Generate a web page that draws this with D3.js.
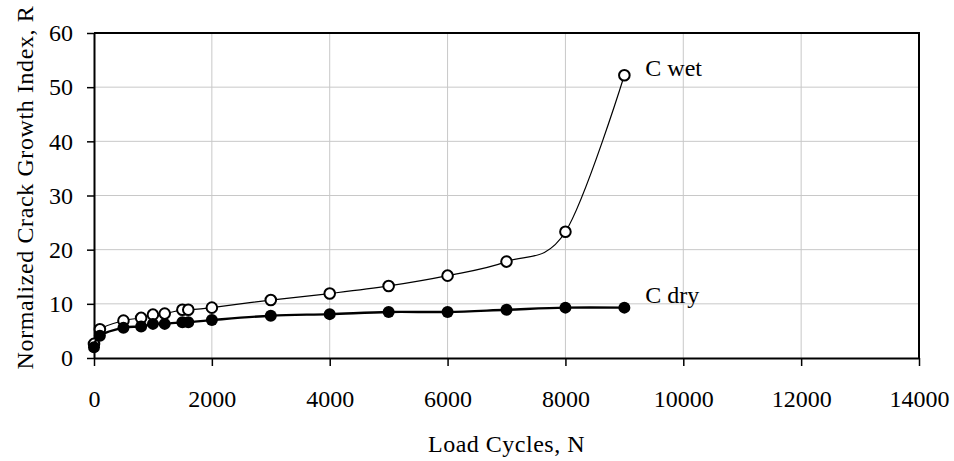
<!DOCTYPE html>
<html>
<head>
<meta charset="utf-8">
<script src="https://cdn.jsdelivr.net/npm/d3@7"></script>
<style>
  html, body { margin: 0; padding: 0; background: #fff; }
  svg text { font-family: "Liberation Serif", "Times New Roman", serif; fill: #000; }
</style>
</head>
<body>
<svg id="chart" width="954" height="461"></svg>
<script>
// Load cycles at which the crack growth index was measured
const cyclesWet = [0, 100, 500, 800, 1000, 1200, 1500, 1600, 2000, 3000, 4000, 5000, 6000, 7000, 8000, 9000];
const indexWet  = [2.6, 5.3, 6.9, 7.4, 8.0, 8.2, 8.9, 8.9, 9.3, 10.7, 11.9, 13.3, 15.2, 17.8, 23.3, 52.2];

const cyclesDry = [0, 100, 500, 800, 1000, 1200, 1500, 1600, 2000, 3000, 4000, 5000, 6000, 7000, 8000, 9000];
const indexDry  = [2.0, 4.1, 5.6, 5.8, 6.3, 6.3, 6.6, 6.6, 7.0, 7.8, 8.1, 8.5, 8.5, 8.9, 9.3, 9.3];

const xTicks = [0, 2000, 4000, 6000, 8000, 10000, 12000, 14000];
const yTicks = [0, 10, 20, 30, 40, 50, 60];

const seriesNames = ["C wet", "C dry"];

const svg = d3.select("#chart");
const margin = { left: 94, top: 33, right: 35, bottom: 103 };
const W = 954 - margin.left - margin.right;
const H = 461 - margin.top - margin.bottom;

const x = d3.scaleLinear().domain([0, 14000]).range([0, W]);
const y = d3.scaleLinear().domain([0, 60]).range([H, 0]);

const g = svg.append("g").attr("transform", `translate(${margin.left},${margin.top})`);

// gridlines
g.append("g").selectAll("line").data(xTicks.slice(1, -1)).join("line")
  .attr("x1", d => x(d)).attr("x2", d => x(d)).attr("y1", 0).attr("y2", H)
  .attr("stroke", "#c8c8c8").attr("stroke-width", 1);
g.append("g").selectAll("line").data(yTicks.slice(1, -1)).join("line")
  .attr("y1", d => y(d)).attr("y2", d => y(d)).attr("x1", 0).attr("x2", W)
  .attr("stroke", "#c8c8c8").attr("stroke-width", 1);

// axes
const xAxis = g.append("g").attr("transform", `translate(0,${H})`)
  .call(d3.axisBottom(x).tickValues(xTicks).tickFormat(d3.format("d")).tickSize(8).tickSizeOuter(0).tickPadding(24));
const yAxis = g.append("g")
  .call(d3.axisLeft(y).tickValues(yTicks).tickSize(7).tickSizeOuter(0).tickPadding(14));
[xAxis, yAxis].forEach(a => {
  a.select(".domain").attr("stroke", "#000").attr("stroke-width", 2);
  a.selectAll(".tick line").attr("stroke", "#000").attr("stroke-width", 1.5);
  a.selectAll(".tick text").style("font-size", "24px").attr("fill", "#000");
});

// frame top and right
g.append("path").attr("d", `M0,0H${W}V${H}`).attr("fill", "none").attr("stroke", "#000").attr("stroke-width", 2);

// series
const wet = cyclesWet.map((c, i) => [c, indexWet[i]]);
const dry = cyclesDry.map((c, i) => [c, indexDry[i]]);

// smoothed lines (uniform Catmull-Rom)
const line = d3.line().x(d => x(d[0])).y(d => y(d[1])).curve(d3.curveCatmullRom.alpha(0));

g.append("path").datum(wet).attr("d", line).attr("fill", "none").attr("stroke", "#000").attr("stroke-width", 1.2);
g.append("g").selectAll("circle").data(wet).join("circle")
  .attr("cx", d => x(d[0])).attr("cy", d => y(d[1])).attr("r", 5.3)
  .attr("fill", "#fff").attr("stroke", "#000").attr("stroke-width", 2);

g.append("path").datum(dry).attr("d", line).attr("fill", "none").attr("stroke", "#000").attr("stroke-width", 2.4);
g.append("g").selectAll("circle").data(dry).join("circle")
  .attr("cx", d => x(d[0])).attr("cy", d => y(d[1])).attr("r", 6)
  .attr("fill", "#000");

// series labels
const lastWet = wet[wet.length - 1], lastDry = dry[dry.length - 1];
g.append("text").attr("x", x(lastWet[0]) + 21).attr("y", y(lastWet[1]) + 1)
  .style("font-size", "24px").text(seriesNames[0]);
g.append("text").attr("x", x(lastDry[0]) + 21).attr("y", y(lastDry[1]) - 5)
  .style("font-size", "24px").text(seriesNames[1]);

// axis titles
svg.append("text").attr("x", margin.left + W / 2).attr("y", 452)
  .attr("text-anchor", "middle").style("font-size", "24px").style("letter-spacing", "0.5px")
  .text("Load Cycles, N");
svg.append("text").attr("transform", `translate(33,${margin.top + H / 2 - 8}) rotate(-90)`)
  .attr("text-anchor", "middle").style("font-size", "24px").style("letter-spacing", "0.6px")
  .text("Normalized Crack Growth Index, R");
</script>
</body>
</html>
